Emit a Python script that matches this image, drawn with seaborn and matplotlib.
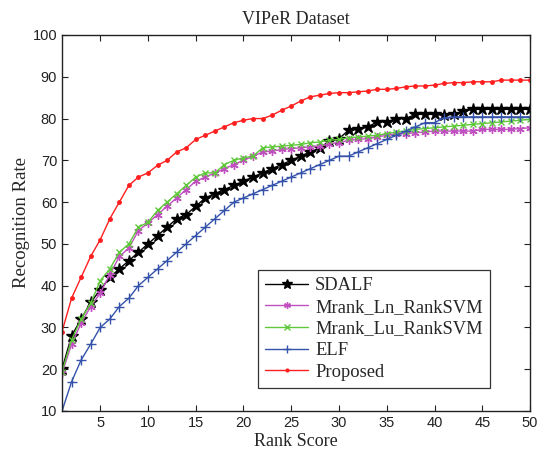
import pandas as pd
import matplotlib
matplotlib.use("Agg")
import matplotlib.pyplot as plt
import seaborn as sns

# Rank scores and recognition rates
rank = list(range(1, 51))

sdalf = [20, 28, 32, 36, 39, 42, 44, 46, 48, 50,
         52, 54, 56, 57, 59, 61, 62, 63, 64, 65,
         66, 67, 68, 69, 70, 71, 72, 73, 74.6, 75.2,
         77.2, 77.4, 78, 79.2, 79.2, 80, 80, 81, 81, 81,
         80.8, 81, 81.8, 82.2, 82.2, 82.2, 82.2, 82.2, 82.2, 82.2]

mrank_ln = [19, 26, 31, 35, 38.2, 42.6, 47, 49, 53.2, 55,
            57, 59, 61, 63, 65, 66, 67, 68, 69, 70,
            71, 72, 72.2, 72.6, 72.8, 73, 73.2, 73.4, 74, 74.2,
            74.8, 75, 75.2, 75.6, 76, 76.2, 76.4, 76.6, 76.8, 77,
            77, 77, 77, 77, 77.4, 77.4, 77.4, 77.4, 77.6, 77.8]

mrank_lu = [19.4, 27, 32, 35.8, 41.2, 44, 48, 50, 54, 55.2,
            58, 60, 62, 64, 66, 67, 67, 69, 70, 70.6,
            71, 73, 73.2, 73.4, 73.6, 73.8, 74.2, 74.4, 74.8, 75,
            75.4, 75.6, 75.8, 76, 76.4, 76.8, 77, 77.4, 77.6, 77.8,
            78, 78.2, 78.4, 78.6, 78.8, 79, 79.2, 79.4, 79.6, 79.8]

elf = [10, 17, 22.2, 26, 30, 32, 35, 37, 40, 42,
       44, 46, 48, 50, 52, 54, 56, 58, 60, 61,
       62, 63, 64, 65, 66, 67, 68, 69, 70, 71,
       71, 72, 73, 74, 75, 76, 77, 78, 79, 79,
       80.2, 80.4, 80.4, 80.4, 80.4, 80.4, 80.4, 80.4, 80.4, 80.4]

proposed = [29, 37, 42, 47, 51, 56, 60, 64, 66, 67,
            68.8, 70, 72, 73, 75, 76, 77, 78, 79, 79.6,
            80, 80, 80.8, 82, 83, 84.2, 85.2, 85.6, 86, 86.2,
            86.2, 86.4, 86.6, 87, 87, 87.2, 87.6, 87.8, 87.8, 88,
            88.4, 88.6, 88.6, 88.8, 88.8, 88.8, 89.2, 89.2, 89.2, 89.2]

x_ticks = [5, 10, 15, 20, 25, 30, 35, 40, 45, 50]
y_ticks = [10, 20, 30, 40, 50, 60, 70, 80, 90, 100]

sns.set_style("ticks")
plt.rcParams["font.family"] = ["Liberation Sans", "DejaVu Sans"]

fig = plt.figure(figsize=(5.37, 4.51), dpi=100)
ax = fig.add_axes([0.1155, 0.0887, 0.8715, 0.8337])

series = [
    ("SDALF", sdalf, "black", "*", 9, 1.0),
    ("Mrank_Ln_RankSVM", mrank_ln, "#c04fc0", (6, 2, 0), 6, 1.0),
    ("Mrank_Lu_RankSVM", mrank_lu, "#5fc83a", "x", 5, 1.0),
    ("ELF", elf, "#3452aa", "+", 7, 1.0),
    ("Proposed", proposed, "#ff1f1f", ".", 5, 1.0),
]

for name, vals, color, marker, ms, lw in series:
    df = pd.DataFrame({"rank": rank, "rate": vals})
    sns.lineplot(data=df, x="rank", y="rate", ax=ax, color=color,
                 marker=marker, markersize=ms, linewidth=lw,
                 markeredgecolor=color, markeredgewidth=1.0, label=name)

ax.set_xlim(1, 50)
ax.set_ylim(10, 100)
ax.set_xticks(x_ticks)
ax.set_yticks(y_ticks)
ax.tick_params(direction="in", top=True, right=True, labelsize=10.5,
               length=4, width=0.8, colors="#222222")
for s in ax.spines.values():
    s.set_linewidth(1.0)
    s.set_color("#222222")

serif = ["Liberation Serif", "DejaVu Serif"]
ax.set_title("VIPeR Dataset", family=serif, fontsize=13, pad=8)
ax.set_xlabel("Rank Score", family=serif, fontsize=13, labelpad=2)
ax.set_ylabel("Recognition Rate", family=serif, fontsize=13.5, labelpad=2)

leg = ax.legend(loc="lower right", bbox_to_anchor=(0.915, 0.061),
                borderaxespad=0,
                prop={"family": serif, "size": 13.3}, frameon=True,
                fancybox=False, handlelength=2.3, borderpad=0.4,
                labelspacing=0.25, handletextpad=0.4, markerscale=0.8)
leg.get_frame().set_edgecolor("black")
leg.get_frame().set_linewidth(0.9)

fig.savefig("out.png", dpi=100)
